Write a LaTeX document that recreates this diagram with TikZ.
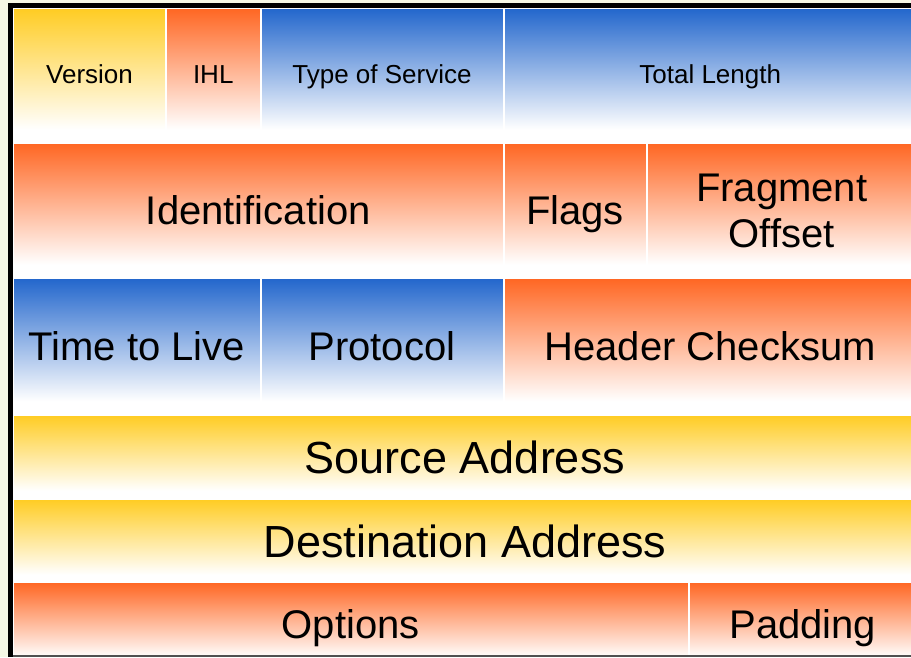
\documentclass[tikz,border=0pt]{standalone}
\usepackage{fontspec}
\setmainfont{Liberation Sans}

\definecolor{hdrYellow}{HTML}{FFCC22}
\definecolor{hdrOrange}{HTML}{FF6622}
\definecolor{hdrBlue}{HTML}{2266CC}
\definecolor{pageCream}{HTML}{F6F8E6}
\definecolor{rimGray}{HTML}{505050}

% vertical fades: saturated colour at the top, white towards the bottom
\pgfdeclareverticalshading{fadeYellow}{100bp}{color(0bp)=(white); color(30bp)=(white); color(75bp)=(hdrYellow); color(100bp)=(hdrYellow)}
\pgfdeclareverticalshading{fadeOrange}{100bp}{color(0bp)=(white); color(30bp)=(white); color(75bp)=(hdrOrange); color(100bp)=(hdrOrange)}
\pgfdeclareverticalshading{fadeBlue}{100bp}{color(0bp)=(white); color(30bp)=(white); color(75bp)=(hdrBlue); color(100bp)=(hdrBlue)}

\tikzset{
  field/.style={rectangle, draw=white, line width=2pt, inner sep=0pt, text=black, shade},
  yel/.style={field, shading=fadeYellow},
  org/.style={field, shading=fadeOrange},
  blu/.style={field, shading=fadeBlue},
  smalltxt/.style={font=\fontsize{26}{31}\selectfont, text height=20pt, text depth=5pt},
  midtxt/.style={font=\fontsize{40}{46}\selectfont, text height=28.6pt, text depth=0pt},
  twoline/.style={font=\fontsize{40}{46}\selectfont, align=center},
  bigtxt/.style={font=\fontsize{45}{54}\selectfont, text height=32.2pt, text depth=0pt},
}

\begin{document}
\begin{tikzpicture}[x=1pt, y=-1pt]
  \useasboundingbox (0,0) rectangle (911,657);
  \clip (0,0) rectangle (911,657);
  \fill[pageCream] (0,0) rectangle (911,657);

  % row 1
  \node[yel, smalltxt, minimum width=153, minimum height=135] (version) at (89.5,75.5) {Version};
  \node[org, smalltxt, minimum width=94.5, minimum height=135] (ihl) at (213.25,75.5) {IHL};
  \node[blu, smalltxt, minimum width=243, minimum height=135] (tos) at (382,75.5) {Type of Service};
  \node[blu, smalltxt, minimum width=413.5, minimum height=135] (tlen) at (710.25,75.5) {Total Length};

  % row 2
  \node[org, midtxt, minimum width=490.5, minimum height=135] (ident) at (258.25,210.5) {Identification};
  \node[org, midtxt, minimum width=143, minimum height=135] (flags) at (575,210.5) {Flags};
  \node[org, twoline, minimum width=270.5, minimum height=135] (frag) at (781.75,210.5) {Fragment\\Offset};

  % row 3
  \node[blu, midtxt, minimum width=247.5, minimum height=137] (ttl) at (136.75,346.5) {Time to Live};
  \node[blu, midtxt, minimum width=243, minimum height=137] (proto) at (382,346.5) {Protocol};
  \node[org, midtxt, minimum width=413.5, minimum height=137] (csum) at (710.25,346.5) {Header Checksum};

  % rows 4 and 5
  \node[yel, bigtxt, minimum width=904, minimum height=84] (src) at (465,457) {Source Address};
  \node[yel, bigtxt, minimum width=904, minimum height=84] (dst) at (465,541) {Destination Address};

  % row 6 (runs past the lower edge)
  \node[org, midtxt, minimum width=675.5, minimum height=84] (opts) at (350.75,624) {Options};
  \node[org, midtxt, minimum width=228.5, minimum height=84] (pad) at (802.75,624) {Padding};

  % frame
  \fill[black] (8,3) rectangle (917,8);
  \fill[black] (8,3) rectangle (13,657);
  \fill[rimGray] (13,655) rectangle (917,657);
\end{tikzpicture}
\end{document}
